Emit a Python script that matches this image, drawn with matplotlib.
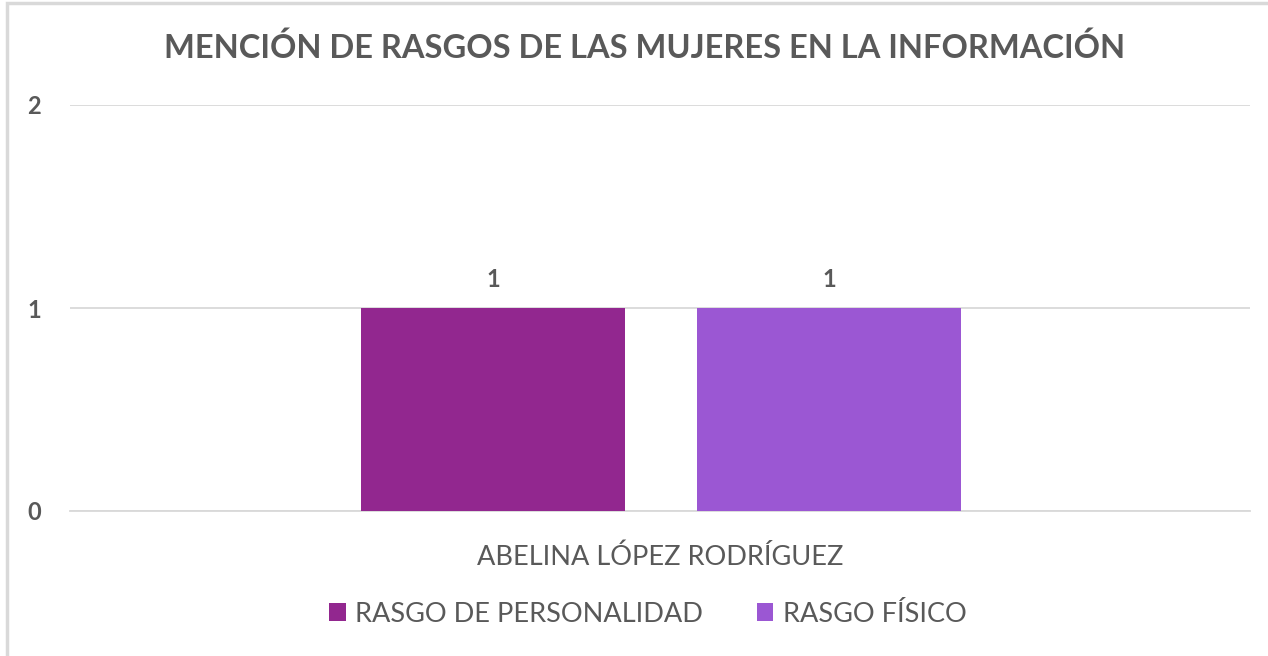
import matplotlib
matplotlib.use("Agg")
import matplotlib.pyplot as plt
from matplotlib.patches import Rectangle, Patch

title = "MENCIÓN DE RASGOS DE LAS MUJERES EN LA INFORMACIÓN"
category = "ABELINA LÓPEZ RODRÍGUEZ"
series_names = ["RASGO DE PERSONALIDAD", "RASGO FÍSICO"]
series_values = [1, 1]
colors = ["#92278F", "#9B57D3"]
yticks = [0, 1, 2]

plt.rcParams['font.family'] = ['Lato', 'DejaVu Sans']
txt = "#595959"

W, H = 1268, 656
fig = plt.figure(figsize=(W/100, H/100), dpi=100)
fig.patch.set_facecolor("white")
fig.patches.append(Rectangle((7/W, -0.05), (W+10)/W, (H-3)/H + 0.05, transform=fig.transFigure,
                             facecolor="white", edgecolor="#D9D9D9", linewidth=2.5, zorder=-10))

ax = fig.add_axes([70/W, 1-511/H, 1180/W, (511-105)/H])
ax.set_facecolor("none")
offsets = [-0.1415, 0.1432]
bw = 0.2237
for v, off, c in zip(series_values, offsets, colors):
    b = ax.bar(off, v, width=bw, color=c, zorder=3)
    ax.bar_label(b, labels=[str(v)], padding=12, fontsize=17, fontweight="bold", color=txt)
ax.set_xlim(-0.5, 0.5)
ax.set_ylim(0, 2)
ax.set_yticks(yticks)
ax.set_yticklabels([str(t) for t in yticks], fontsize=17, fontweight="bold", color=txt)
ax.tick_params(axis="y", length=0, pad=21)
ax.set_xticks([0])
ax.set_xticklabels([category], fontsize=19.5, color=txt)
ax.tick_params(axis="x", length=0, pad=24)
ax.grid(axis="y", color="#D9D9D9", linewidth=1.3, zorder=0)
for s in ["top", "right", "left"]:
    ax.spines[s].set_visible(False)
ax.spines["bottom"].set_color("#D9D9D9")
ax.spines["bottom"].set_linewidth(1.3)

fig.text(645/W, 1-48/H, title, ha="center", va="center", fontsize=23.5, fontweight="bold", color=txt)

handles = [Patch(facecolor=c, label=n) for c, n in zip(colors, series_names)]
fig.legend(handles=handles, loc="center", bbox_to_anchor=(648/W, 1-614/H), ncol=2, frameon=False,
           fontsize=19.5, handlelength=0.6, handleheight=0.6, handletextpad=0.35, columnspacing=2.0,
           labelcolor=txt)

fig.savefig("out.png", dpi=100)
